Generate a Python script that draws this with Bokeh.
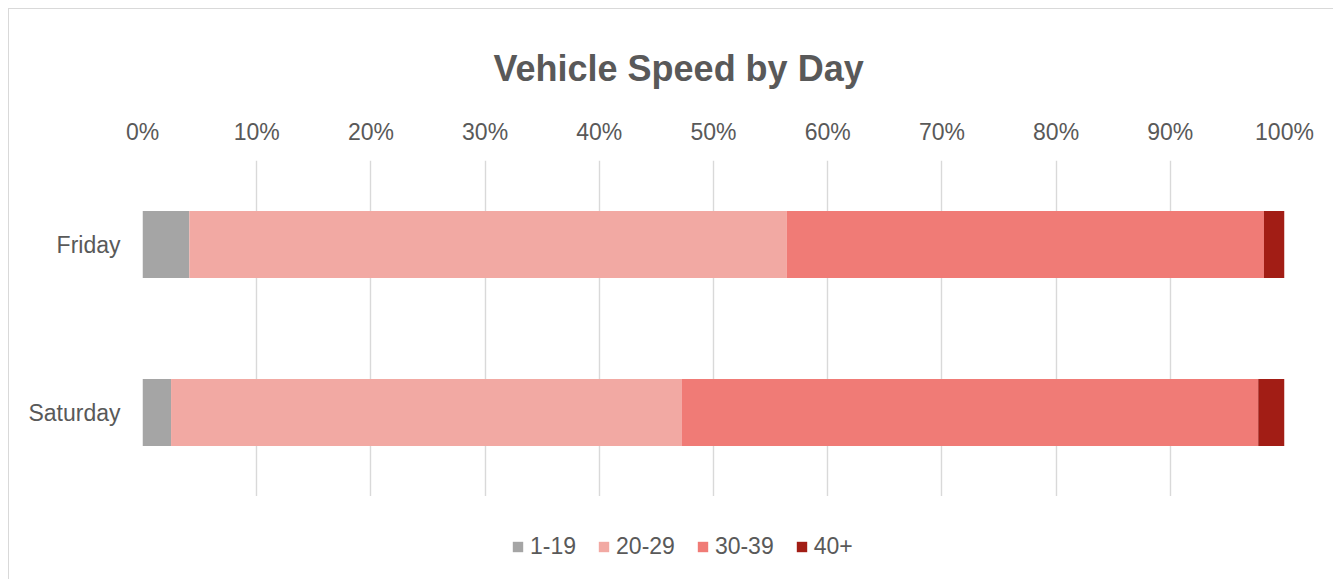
from bokeh.plotting import figure
from bokeh.layouts import column
from bokeh.models import (Range1d, FactorRange, FixedTicker, PrintfTickFormatter,
                          Legend, LegendItem, InlineStyleSheet)
from bokeh.embed import file_html
from bokeh.resources import INLINE

days = ["Friday", "Saturday"]
speed_bins = ["1-19", "20-29", "30-39", "40+"]
share_1_19 = [4.1, 2.5]
share_20_29 = [52.3, 44.7]
share_30_39 = [41.8, 50.5]
share_40_plus = [1.8, 2.3]
tick_values = [0, 10, 20, 30, 40, 50, 60, 70, 80, 90, 100]
colors = ["#A5A5A5", "#F2A9A3", "#F07B76", "#A21D15"]

FONT = "Liberation Sans"
TXT = "#595959"

data = {"day": days, "1-19": share_1_19, "20-29": share_20_29,
        "30-39": share_30_39, "40+": share_40_plus}

p = figure(frame_width=1142, frame_height=336,
           y_range=FactorRange(factors=days[::-1]),
           x_range=Range1d(0, 100),
           x_axis_location="above",
           output_backend="svg", toolbar_location=None,
           min_border_left=142, min_border_right=49,
           min_border_bottom=0, min_border_top=160)
p.stylesheets = [InlineStyleSheet(css=(
    ":host::after{content:'';position:absolute;left:8px;top:8px;right:0;bottom:0;"
    "border-top:1px solid #d9d9d9;border-left:1px solid #d9d9d9;pointer-events:none;}"))]

renderers = p.hbar_stack(speed_bins, y="day", height=0.4, color=colors,
                         line_color=None, source=data)

p.title.text = "Vehicle Speed by Day"
p.title.text_font = FONT
p.title.text_font_size = "36px"
p.title.text_font_style = "bold"
p.title.text_color = TXT
p.title.align = "left"
p.title.offset = 351
p.title.standoff = 53

xa = p.xaxis[0]
xa.ticker = FixedTicker(ticks=tick_values)
xa.formatter = PrintfTickFormatter(format="%d%%")
xa.axis_line_color = None
xa.major_tick_line_color = None
xa.minor_tick_line_color = None
xa.major_tick_out = 0
xa.major_tick_in = 0
xa.major_label_text_font = FONT
xa.major_label_text_font_size = "23px"
xa.major_label_text_color = TXT
xa.major_label_standoff = 16

ya = p.yaxis[0]
ya.axis_line_color = None
ya.major_tick_line_color = None
ya.minor_tick_line_color = None
ya.major_tick_out = 0
ya.major_tick_in = 0
ya.major_label_text_font = FONT
ya.major_label_text_font_size = "23px"
ya.major_label_text_color = TXT
ya.major_label_standoff = 22

p.xgrid.grid_line_color = "#D9D9D9"
p.xgrid.grid_line_width = 1.4
p.ygrid.grid_line_color = None
p.outline_line_color = None

# legend strip below the chart: same series with zero-height, off-view bars so only the legend shows
lg = figure(width=1333, height=83, x_range=Range1d(1e6, 1e6 + 1), y_range=FactorRange(factors=days[::-1]),
            x_axis_location=None, y_axis_location=None,
            output_backend="svg", toolbar_location=None,
            min_border=0, min_border_left=0, min_border_right=0,
            min_border_top=0, min_border_bottom=0)
lg.stylesheets = [InlineStyleSheet(css=(
    ":host::after{content:'';position:absolute;left:8px;top:0;right:0;bottom:0;"
    "border-left:1px solid #d9d9d9;pointer-events:none;}"))]
lg.grid.grid_line_color = None
lg.outline_line_color = None
swatches = lg.hbar_stack(speed_bins, y="day", height=0.0, color=colors,
                         line_color=None, source=data)

legend = Legend(items=[LegendItem(label=b, renderers=[r]) for b, r in zip(speed_bins, swatches)],
                orientation="horizontal", location=(369, 19),
                glyph_width=13, glyph_height=13, label_standoff=6, spacing=21,
                padding=0, margin=0, border_line_color=None, background_fill_alpha=0,
                label_text_font=FONT, label_text_font_size="23px", label_text_color=TXT)
lg.add_layout(legend, "center")

layout = column(p, lg, spacing=0)
open("out.html", "w").write(file_html(layout, INLINE))
